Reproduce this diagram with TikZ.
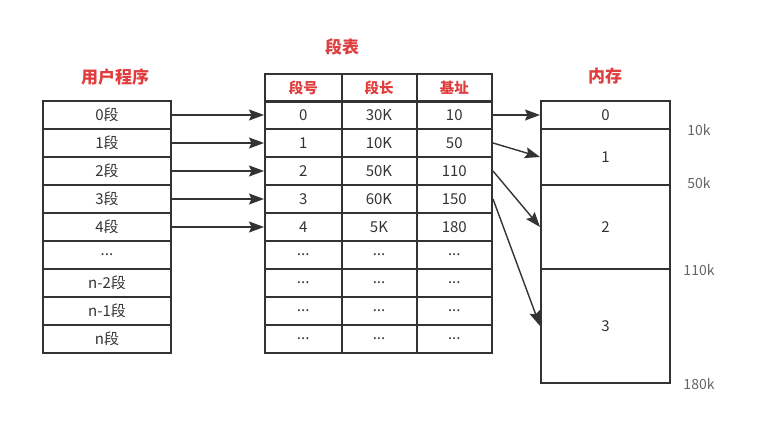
\documentclass[tikz,border=0pt]{standalone}
\usepackage{fontspec}
\setmainfont{Noto Sans CJK SC}
\usetikzlibrary{arrows.meta, positioning}
\definecolor{titlered}{RGB}{224,62,62}
\definecolor{linegray}{RGB}{51,51,51}
\definecolor{addrgray}{RGB}{100,100,100}
\newcommand{\segdots}{...}

\begin{document}
\begin{tikzpicture}[x=1pt,y=-1pt,
    box/.style={draw=linegray, line width=2pt, inner sep=0pt, anchor=north west,
        minimum height=28pt, text=linegray, font=\fontsize{15}{15}\selectfont},
    progcell/.style={box, minimum width=128pt},
    tcell/.style={box, minimum width=#1},
    memcell/.style={box, minimum width=129pt, minimum height=#1},
    title/.style={text=titlered, font=\fontsize{17}{17}\selectfont\bfseries},
    head/.style={text=titlered, font=\fontsize{14.5}{14.5}\selectfont\bfseries},
    addr/.style={text=addrgray, font=\fontsize{14}{14}\selectfont},
    link/.style={draw=linegray, line width=1.4pt, -{Stealth[length=15pt,width=11pt,inset=2.5pt]}}
]
\useasboundingbox (0,0) rectangle (781,425);

% Titles
\node[title] (tprog) at (115,77) {用户程序};
\node[title] (ttable) at (342,47) {段表};
\node[title] (tmem) at (605,76) {内存};

% User program
\foreach \i/\t in {0/0段,1/1段,2/2段,3/3段,4/4段,5/\segdots,6/n-2段,7/n-1段,8/n段}
    \node[progcell] (p\i) at (42,100+28*\i) {\t};

% Segment table
\node[tcell=76.5pt] (hno) at (264,73) {};
\node[tcell=75pt] (hlen) at (340.5,73) {};
\node[tcell=75.5pt] (hbase) at (415.5,73) {};
\node[head] at (hno) {段号};
\node[head] at (hlen) {段长};
\node[head] at (hbase) {基址};
\foreach \i/\n/\l/\b in {0/0/30K/10,1/1/10K/50,2/2/50K/110,3/3/60K/150,4/4/5K/180,
        5/\segdots/\segdots/\segdots,6/\segdots/\segdots/\segdots,
        7/\segdots/\segdots/\segdots,8/\segdots/\segdots/\segdots}{
    \node[tcell=76.5pt] (no\i) at (264,100+28*\i) {\n};
    \node[tcell=75pt] (len\i) at (340.5,100+28*\i) {\l};
    \node[tcell=75.5pt] (base\i) at (415.5,100+28*\i) {\b};
}

% Memory
\node[memcell=28pt] (mem0) at (540,100) {0};
\node[memcell=56pt] (mem1) at (540,128) {1};
\node[memcell=84pt] (mem2) at (540,184) {2};
\node[memcell=114pt] (mem3) at (540,268) {3};
\node[addr] (a10) at ([xshift=28pt]mem0.south east) {10k};
\node[addr] (a50) at ([xshift=28pt,yshift=3pt]mem1.south east) {50k};
\node[addr] (a110) at ([xshift=28pt]mem2.south east) {110k};
\node[addr] (a180) at ([xshift=28pt]mem3.south east) {180k};

% Links
\foreach \i in {0,...,4}
    \draw[link] (p\i.east) -- (no\i.west);
\draw[link] (base0.east) -- (mem0.west);
\draw[link] (base1.east) -- (mem1.west);
\draw[link] (base2.east) -- (mem2.west);
\draw[link] (base3.east) -- (mem3.west);
\end{tikzpicture}
\end{document}
